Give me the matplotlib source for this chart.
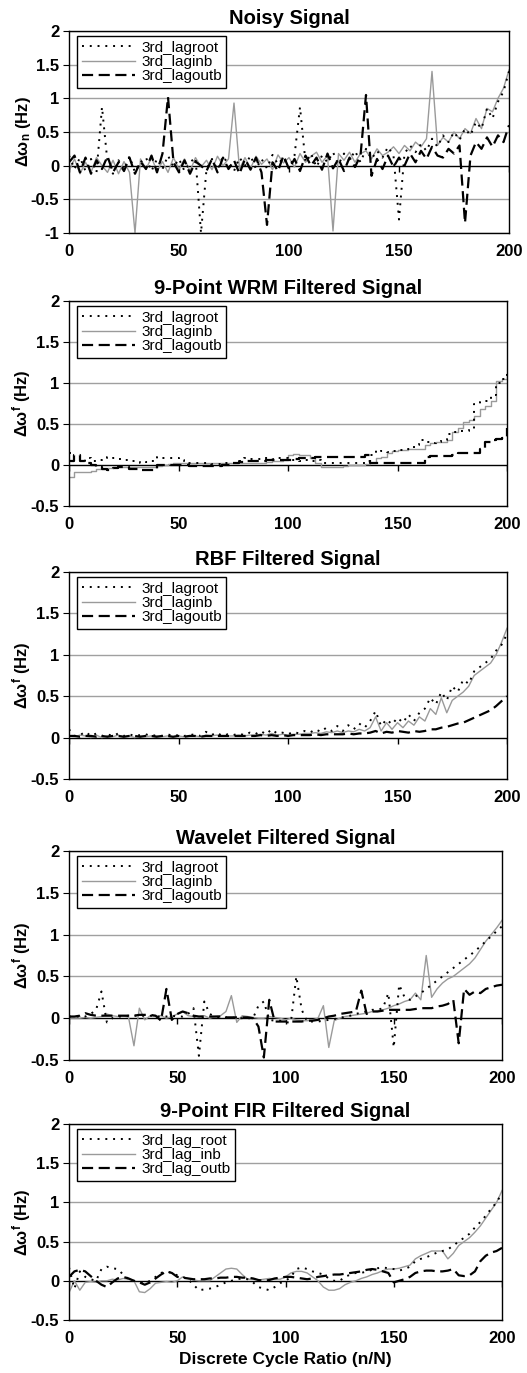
import numpy as np
import matplotlib
matplotlib.use("Agg")
import matplotlib.pyplot as plt
from matplotlib.ticker import FuncFormatter

plt.rcParams['font.family'] = ['Liberation Sans', 'DejaVu Sans']
plt.rcParams['axes.unicode_minus'] = False
plt.rcParams['mathtext.fontset'] = 'custom'
plt.rcParams['mathtext.rm'] = 'Liberation Sans'
plt.rcParams['mathtext.bf'] = 'Liberation Sans:bold'
plt.rcParams['mathtext.it'] = 'Liberation Sans:italic'

# cycle ratio samples (n/N), every 2.5 cycles
cycles = np.arange(0, 200.1, 2.5)

# ---- Noisy signal ----
noisy_root = [0.15, -0.05, 0.12, -0.08, 0.10, -0.10, 0.87, 0.05, -0.12, 0.08,
              -0.06, 0.14, -0.10, 0.05, 0.12, -0.08, 0.10, -0.05, 0.15, -0.02,
              0.10, -0.08, 0.05, 0.12, -1.00, -0.05, 0.10, -0.06, 0.14, 0.02,
              -0.08, 0.12, 0.00, 0.15, -0.05, 0.10, -0.04, 0.16, 0.02, 0.12,
              -0.04, 0.15, 0.87, 0.05, 0.18, -0.02, 0.15, 0.05, 0.20, 0.02,
              0.18, 0.08, 0.22, 0.05, 0.25, 0.10, 0.22, 0.12, 0.28, 0.15,
              -0.80, 0.18, 0.30, 0.20, 0.32, 0.22, 0.40, 0.28, 0.45, 0.35,
              0.50, 0.38, 0.55, 0.45, 0.65, 0.55, 0.85, 0.70, 0.95, 1.10,
              1.40]
noisy_inb = [-0.08, 0.10, -0.12, 0.05, -0.10, 0.12, 0.00, -0.10, 0.08, -0.12,
             0.06, -0.10, -1.00, 0.10, -0.05, 0.12, -0.08, 0.06, -0.10, 0.12,
             -0.05, 0.10, -0.08, 0.12, -0.02, 0.08, -0.06, 0.14, 0.00, 0.10,
             0.93, -0.05, 0.12, -0.04, 0.14, 0.02, 0.10, -0.06, 0.16, 0.04,
             0.12, -0.02, 0.18, 0.05, 0.14, 0.20, 0.05, 0.15, -0.97, 0.18,
             0.08, 0.20, 0.05, 0.18, 0.22, 0.10, 0.25, 0.15, 0.20, 0.28,
             0.18, 0.30, 0.22, 0.35, 0.28, 0.40, 1.40, 0.30, 0.42, 0.35,
             0.50, 0.40, 0.55, 0.48, 0.70, 0.55, 0.85, 0.80, 1.00, 1.15,
             1.42]
noisy_outb = [0.05, 0.15, -0.10, 0.12, -0.12, 0.08, -0.05, 0.14, -0.10, 0.05,
              -0.08, 0.12, -0.12, 0.06, -0.05, 0.15, -0.10, 0.18, 1.02, 0.05,
              -0.10, 0.08, -0.12, 0.06, 0.00, -0.08, 0.10, -0.10, 0.12, -0.05,
              0.08, -0.12, 0.10, -0.06, 0.12, -0.10, -0.88, 0.05, -0.08, 0.15,
              -0.05, 0.10, -0.08, 0.15, 0.00, 0.12, -0.06, 0.18, -0.04, 0.10,
              -0.08, 0.12, -0.02, 0.15, 1.05, -0.15, 0.10, -0.05, 0.15, -0.02,
              0.12, 0.00, 0.18, 0.05, 0.22, 0.10, 0.28, 0.15, 0.12, 0.25,
              0.18, 0.30, -0.85, 0.15, 0.35, 0.25, 0.42, 0.28, 0.45, 0.35,
              0.60]

# ---- 9-point WRM filtered ----
wrm_root = [0.15, 0.10, 0.05, 0.08, 0.05, 0.06, 0.08, 0.10, 0.08, 0.07,
            0.06, 0.05, 0.05, 0.03, 0.04, 0.05, 0.10, 0.08, 0.08, 0.08,
            0.06, 0.05, 0.03, 0.02, 0.02, 0.02, 0.01, 0.01, 0.02, 0.02,
            0.03, 0.05, 0.08, 0.07, 0.07, 0.08, 0.08, 0.07, 0.08, 0.09,
            0.06, 0.06, 0.05, 0.06, 0.05, 0.06, 0.03, 0.02, 0.02, 0.02,
            0.02, 0.02, 0.03, 0.02, 0.05, 0.12, 0.18, 0.17, 0.16, 0.17,
            0.18, 0.18, 0.20, 0.25, 0.30, 0.28, 0.27, 0.28, 0.30, 0.38,
            0.40, 0.42, 0.42, 0.44, 0.75, 0.77, 0.78, 0.85, 1.00, 1.05,
            1.15]
wrm_inb = [-0.15, -0.08, -0.08, -0.08, -0.07, -0.05, -0.05, -0.04, -0.03, -0.03,
           -0.03, -0.03, -0.03, -0.02, -0.02, -0.02, -0.01, 0.00, 0.01, 0.02,
           0.02, 0.02, 0.02, 0.03, 0.03, 0.03, 0.03, 0.03, 0.02, 0.02,
           0.02, 0.02, 0.02, 0.02, 0.03, 0.03, 0.04, 0.05, 0.05, 0.06,
           0.12, 0.13, 0.12, 0.12, 0.08, 0.03, -0.02, -0.02, -0.02, -0.02,
           -0.01, 0.00, 0.00, 0.00, 0.01, 0.02, 0.08, 0.10, 0.15, 0.17,
           0.18, 0.18, 0.19, 0.20, 0.20, 0.25, 0.27, 0.28, 0.28, 0.30,
           0.40, 0.45, 0.52, 0.55, 0.60, 0.68, 0.72, 0.78, 1.02, 1.05,
           1.08]
wrm_outb = [0.05, 0.12, 0.05, 0.02, 0.00, -0.03, -0.05, -0.06, -0.04, -0.03,
            -0.03, -0.05, -0.05, -0.06, -0.06, -0.06, 0.00, 0.00, 0.00, 0.00,
            0.00, 0.00, -0.01, -0.01, -0.01, -0.01, -0.01, -0.01, 0.00, 0.00,
            0.02, 0.04, 0.05, 0.05, 0.05, 0.05, 0.06, 0.06, 0.06, 0.06,
            0.06, 0.07, 0.08, 0.08, 0.08, 0.10, 0.10, 0.10, 0.10, 0.10,
            0.10, 0.10, 0.10, 0.10, 0.12, 0.02, 0.02, 0.02, 0.02, 0.02,
            0.02, 0.02, 0.02, 0.02, 0.02, 0.10, 0.11, 0.11, 0.11, 0.11,
            0.12, 0.15, 0.15, 0.15, 0.15, 0.20, 0.28, 0.30, 0.32, 0.33,
            0.45]

# ---- RBF filtered ----
rbf_root = [0.10, 0.02, 0.03, 0.07, 0.02, 0.05, 0.02, 0.04, 0.02, 0.05,
            0.02, 0.04, 0.02, 0.03, 0.04, 0.02, 0.03, 0.02, 0.04, 0.02,
            0.03, 0.02, 0.03, 0.04, 0.02, 0.07, 0.03, 0.06, 0.02, 0.04,
            0.03, 0.05, 0.03, 0.06, 0.04, 0.08, 0.04, 0.10, 0.05, 0.06,
            0.04, 0.07, 0.05, 0.08, 0.06, 0.10, 0.07, 0.12, 0.08, 0.14,
            0.08, 0.15, 0.10, 0.17, 0.12, 0.20, 0.32, 0.14, 0.22, 0.16,
            0.24, 0.18, 0.28, 0.20, 0.30, 0.35, 0.48, 0.40, 0.55, 0.45,
            0.62, 0.55, 0.70, 0.65, 0.80, 0.85, 0.90, 0.95, 1.05, 1.12,
            1.25]
rbf_inb = [0.02, 0.01, 0.03, 0.02, 0.00, 0.03, 0.00, 0.02, 0.01, 0.03,
           0.01, 0.02, 0.00, 0.02, 0.01, 0.02, 0.02, 0.01, 0.02, 0.01,
           0.02, 0.01, 0.02, 0.02, 0.01, 0.03, 0.02, 0.03, 0.02, 0.02,
           0.02, 0.03, 0.02, 0.03, 0.03, 0.04, 0.03, 0.05, 0.03, 0.04,
           0.03, 0.04, 0.04, 0.05, 0.05, 0.06, 0.05, 0.07, 0.06, 0.08,
           0.06, 0.08, 0.07, 0.10, 0.08, 0.12, 0.25, 0.08, 0.18, 0.10,
           0.18, 0.12, 0.20, 0.15, 0.25, 0.20, 0.35, 0.28, 0.48, 0.30,
           0.45, 0.50, 0.55, 0.62, 0.75, 0.80, 0.85, 0.90, 1.00, 1.15,
           1.32]
rbf_outb = [0.02, 0.02, 0.01, 0.02, 0.02, 0.01, 0.02, 0.01, 0.02, 0.02,
            0.01, 0.02, 0.02, 0.01, 0.02, 0.02, 0.01, 0.02, 0.02, 0.01,
            0.02, 0.01, 0.02, 0.02, 0.01, 0.02, 0.02, 0.02, 0.02, 0.02,
            0.02, 0.02, 0.02, 0.02, 0.02, 0.03, 0.02, 0.03, 0.02, 0.03,
            0.02, 0.03, 0.03, 0.03, 0.03, 0.04, 0.03, 0.04, 0.04, 0.04,
            0.04, 0.05, 0.04, 0.05, 0.05, 0.06, 0.08, 0.05, 0.07, 0.06,
            0.08, 0.07, 0.06, 0.08, 0.07, 0.08, 0.10, 0.10, 0.12, 0.13,
            0.15, 0.17, 0.18, 0.21, 0.24, 0.27, 0.30, 0.33, 0.38, 0.44,
            0.50]

# ---- Wavelet filtered ----
wav_root = [0.02, 0.02, 0.02, 0.02, 0.05, 0.10, 0.32, -0.05, 0.00, 0.02,
            0.02, 0.03, 0.03, 0.03, 0.03, 0.03, 0.02, 0.02, 0.02, 0.03,
            0.02, 0.02, 0.05, 0.12, -0.45, 0.20, 0.05, 0.02, 0.01, 0.01,
            0.01, 0.00, 0.00, 0.00, 0.00, 0.15, 0.20, -0.02, -0.03, -0.03,
            -0.05, -0.05, 0.50, 0.10, -0.04, -0.04, -0.04, -0.03, -0.02, -0.01,
            0.00, 0.02, 0.03, 0.05, 0.07, 0.08, 0.10, 0.10, 0.12, 0.30,
            -0.35, 0.40, 0.25, 0.22, 0.26, 0.30, 0.35, 0.40, 0.45, 0.50,
            0.55, 0.60, 0.65, 0.70, 0.75, 0.80, 0.86, 0.92, 0.98, 1.04,
            1.10]
wav_inb = [0.00, 0.00, 0.00, 0.01, 0.00, 0.01, 0.02, 0.05, 0.03, 0.02,
           0.03, 0.01, -0.33, 0.12, -0.02, 0.03, 0.02, 0.03, 0.00, 0.02,
           0.05, 0.08, 0.03, 0.02, 0.02, 0.03, 0.00, 0.02, 0.03, 0.08,
           0.27, -0.05, 0.03, 0.02, 0.01, 0.00, 0.00, 0.02, 0.01, 0.00,
           -0.02, 0.00, -0.02, -0.03, -0.03, -0.02, 0.00, 0.15, -0.35, -0.03,
           0.00, 0.02, 0.03, 0.04, 0.05, 0.06, 0.08, 0.09, 0.10, 0.12,
           0.15, 0.17, 0.20, 0.22, 0.30, 0.22, 0.75, 0.25, 0.35, 0.42,
           0.47, 0.50, 0.55, 0.60, 0.65, 0.72, 0.82, 0.92, 1.00, 1.08,
           1.17]
wav_outb = [0.02, 0.02, 0.03, 0.06, 0.04, 0.03, 0.03, 0.03, 0.03, 0.03,
            0.03, 0.03, 0.03, 0.04, 0.04, 0.04, 0.03, -0.03, 0.35, -0.02,
            0.05, 0.08, 0.06, 0.03, 0.02, 0.02, 0.02, 0.02, 0.02, 0.01,
            0.01, 0.01, 0.01, 0.01, 0.00, -0.10, -0.47, 0.22, -0.04, -0.04,
            -0.04, -0.04, -0.04, -0.04, -0.03, -0.03, -0.02, 0.00, 0.02, 0.03,
            0.05, 0.06, 0.07, 0.08, 0.33, 0.05, 0.08, 0.08, 0.09, 0.10,
            0.10, 0.10, 0.10, 0.10, 0.11, 0.12, 0.12, 0.12, 0.14, 0.15,
            0.17, 0.22, -0.30, 0.35, 0.28, 0.32, 0.30, 0.35, 0.37, 0.39,
            0.40]

# ---- 9-point FIR filtered ----
fir_root = [0.17, -0.10, 0.12, 0.05, 0.02, 0.00, 0.15, 0.18, 0.16, 0.15,
            0.08, 0.02, 0.00, -0.02, -0.03, 0.00, 0.05, 0.10, 0.12, 0.10,
            0.07, 0.05, 0.02, -0.05, -0.12, -0.11, -0.10, -0.08, -0.05, -0.02,
            0.00, 0.02, 0.03, 0.02, -0.02, -0.08, -0.10, -0.12, -0.08, -0.03,
            0.00, 0.05, 0.15, 0.17, 0.15, 0.12, 0.10, 0.08, 0.03, 0.00,
            0.00, 0.05, 0.08, 0.10, 0.10, 0.12, 0.14, 0.16, 0.17, 0.16,
            0.15, 0.13, 0.15, 0.18, 0.25, 0.28, 0.30, 0.33, 0.36, 0.38,
            0.40, 0.45, 0.50, 0.55, 0.60, 0.68, 0.75, 0.83, 0.92, 1.00,
            1.12]
fir_inb = [-0.15, 0.00, -0.12, -0.02, -0.01, -0.02, 0.00, 0.00, 0.02, 0.01,
           0.03, 0.02, 0.00, -0.14, -0.15, -0.10, -0.03, -0.02, -0.01, -0.02,
           0.00, 0.05, 0.03, 0.01, 0.00, 0.00, 0.00, 0.05, 0.10, 0.15,
           0.16, 0.15, 0.08, 0.02, 0.02, 0.01, 0.02, 0.03, 0.02, 0.02,
           0.05, 0.10, 0.12, 0.12, 0.10, 0.05, 0.00, -0.08, -0.12, -0.12,
           -0.10, -0.05, -0.02, 0.00, 0.03, 0.05, 0.08, 0.10, 0.13, 0.15,
           0.15, 0.16, 0.18, 0.20, 0.28, 0.32, 0.35, 0.38, 0.38, 0.38,
           0.28, 0.35, 0.45, 0.50, 0.55, 0.62, 0.70, 0.80, 0.90, 1.00,
           1.15]
fir_outb = [0.05, 0.12, 0.14, 0.12, 0.06, 0.00, -0.05, -0.08, -0.02, 0.03,
            0.05, 0.03, 0.00, -0.02, -0.05, -0.02, 0.03, 0.08, 0.12, 0.10,
            0.05, 0.04, 0.03, 0.02, 0.02, 0.02, 0.03, 0.03, 0.04, 0.04,
            0.05, 0.05, 0.04, 0.04, 0.03, 0.01, 0.00, 0.01, 0.03, 0.04,
            0.05, 0.05, 0.04, 0.03, 0.02, 0.03, 0.05, 0.06, 0.07, 0.08,
            0.08, 0.09, 0.10, 0.11, 0.12, 0.14, 0.15, 0.14, 0.12, 0.10,
            -0.02, 0.00, 0.02, 0.05, 0.10, 0.12, 0.13, 0.13, 0.12, 0.12,
            0.13, 0.15, 0.07, 0.06, 0.07, 0.12, 0.25, 0.32, 0.36, 0.38,
            0.42]

titles = ['Noisy Signal', '9-Point WRM Filtered Signal', 'RBF Filtered Signal',
          'Wavelet Filtered Signal', '9-Point FIR Filtered Signal']
ylabels = [r'Δω$_\mathbf{n}$ (Hz)'] + [r'Δω$^\mathbf{f}$ (Hz)'] * 4
labels_a = ['3rd_lagroot', '3rd_laginb', '3rd_lagoutb']
labels_b = ['3rd_lag_root', '3rd_lag_inb', '3rd_lag_outb']
xticks = [0, 50, 100, 150, 200]

panels = [
    (noisy_root, noisy_inb, noisy_outb),
    (wrm_root, wrm_inb, wrm_outb),
    (rbf_root, rbf_inb, rbf_outb),
    (wav_root, wav_inb, wav_outb),
    (fir_root, fir_inb, fir_outb),
]
ymins = [-1, -0.5, -0.5, -0.5, -0.5]
# the weighted running median output holds its value between updates
drawstyles = ['default', 'steps-post', 'default', 'default', 'default']

W, H = 527, 1373
# axes boxes in pixels: left, top, right, bottom
boxes = [(69, 31, 509, 233), (69, 301, 507, 506), (69, 572, 507, 779),
         (69, 851, 502, 1060), (69, 1124, 502, 1320)]

fig = plt.figure(figsize=(W / 100, H / 100), dpi=100)
fmt = FuncFormatter(lambda v, p: '%g' % v)

for k in range(5):
    l, t, r, b = boxes[k]
    ax = fig.add_axes([l / W, 1 - b / H, (r - l) / W, (b - t) / H])
    root, inb, outb = panels[k]
    assert len(root) == len(inb) == len(outb) == len(cycles)
    yt = np.arange(ymins[k], 2.01, 0.5)
    for v in yt:
        if v != 0:
            ax.axhline(v, color='#a0a0a0', lw=1, zorder=1)
    ax.axhline(0, color='black', lw=1, zorder=1)
    ax.plot(xticks, [0] * len(xticks), ls='none', marker=3, ms=4, mew=1,
            color='black', zorder=1)
    labs = labels_b if k == 4 else labels_a
    ds = drawstyles[k]
    ax.plot(cycles, root, color='black', lw=1.4, dashes=(1, 3), drawstyle=ds,
            label=labs[0], zorder=3)
    ax.plot(cycles, inb, color='#9a9a9a', lw=1.0, drawstyle=ds,
            label=labs[1], zorder=2)
    ax.plot(cycles, outb, color='black', lw=1.6, dashes=(5, 2.5), drawstyle=ds,
            label=labs[2], zorder=3)
    ax.set_xlim(0, 200)
    ax.set_ylim(ymins[k], 2)
    ax.set_xticks(xticks)
    ax.set_yticks(yt)
    ax.yaxis.set_major_formatter(fmt)
    ax.tick_params(axis='x', length=0, pad=8, labelsize=12)
    ax.tick_params(axis='y', direction='out', length=4, pad=3, labelsize=12)
    for lab in ax.get_xticklabels() + ax.get_yticklabels():
        lab.set_fontweight('bold')
    for s in ax.spines.values():
        s.set_linewidth(1)
        s.set_color('black')
    ax.set_title(titles[k], fontsize=14.5, fontweight='bold', pad=5)
    ax.set_ylabel(ylabels[k], fontsize=12, fontweight='bold')
    ax.yaxis.set_label_coords(-36 / (r - l), 0.5)
    leg = ax.legend(loc='upper left', bbox_to_anchor=(8 / (r - l), 1 - 5 / (b - t)),
                    borderaxespad=0, fontsize=11, frameon=True, fancybox=False,
                    edgecolor='black', framealpha=1, handlelength=3.5,
                    handletextpad=0.4, labelspacing=0.02, borderpad=0.3)
    leg.get_frame().set_linewidth(1)
    if k == 4:
        ax.set_xlabel('Discrete Cycle Ratio (n/N)', fontsize=12.5, fontweight='bold', labelpad=4)

fig.savefig('out.png', dpi=100)
